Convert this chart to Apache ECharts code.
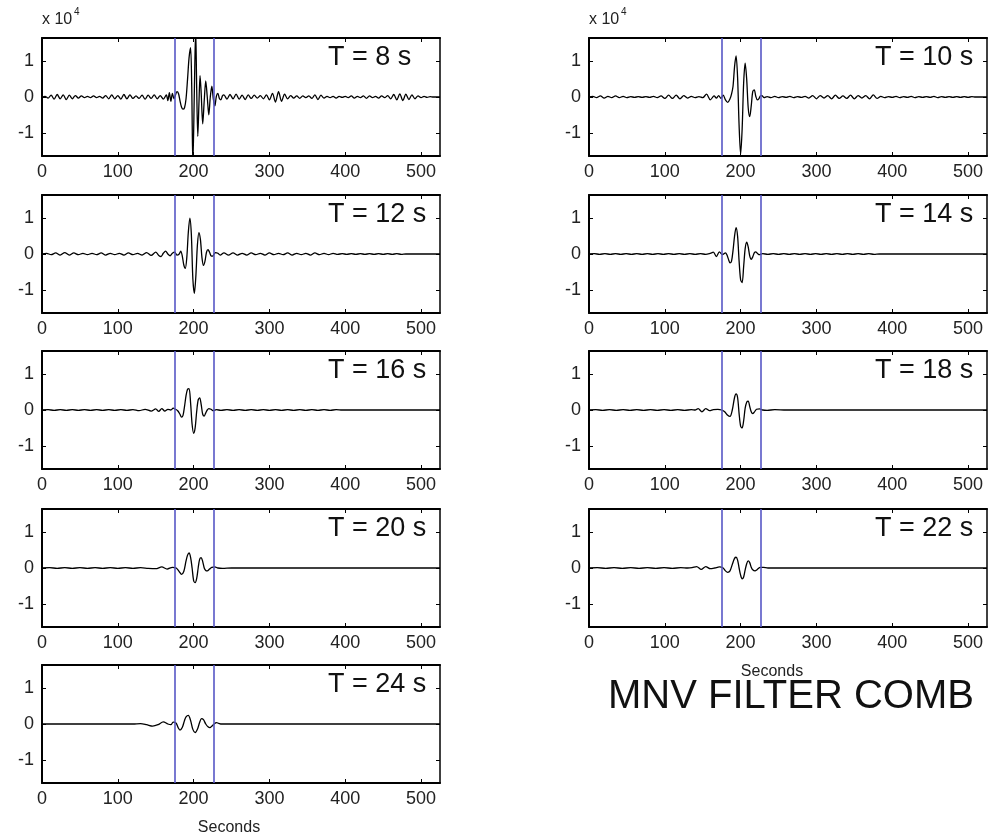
<!DOCTYPE html>
<html><head><meta charset="utf-8">
<script src="https://cdn.jsdelivr.net/npm/echarts@6/dist/echarts.min.js"></script>
<style>html,body{margin:0;padding:0;background:#fff}#c{width:988px;height:839px}</style>
</head><body><div id="c"></div><script>
// ---- data ----
const periods = [8, 10, 12, 14, 16, 18, 20, 22, 24];
const xTicks = [0, 100, 200, 300, 400, 500];
const yTicks = [-1, 0, 1];
const windowEdges = [175, 226];
const chartTitle = 'MNV FILTER COMB';
const xName = 'Seconds';

// [seconds, amplitude x 1e4]
const wave8 = [[0,0],[4,0.02],[8,-0.03],[12,0.05],[16,-0.06],[20,0.07],[24,-0.05],[28,0.06],[32,-0.07],[36,0.05],[40,-0.05],[44,0.04],[48,-0.03],[52,0.03],[56,-0.02],[60,0.02],[64,-0.02],[68,0.03],[72,-0.02],[76,0.02],[80,-0.03],[84,0.04],[88,-0.05],[92,0.06],[96,-0.05],[100,0.04],[104,-0.06],[108,0.07],[112,-0.05],[116,0.06],[120,-0.04],[124,0.03],[128,-0.04],[132,0.05],[136,-0.06],[140,0.05],[144,-0.04],[148,0.06],[152,-0.05],[156,0.04],[160,-0.06],[164,0.06],
[166,-0.1],[168,0.12],[170,-0.12],[172,0.1],[174,-0.05],[176,0.05],[178,0.15],[180,0.1],[182,-0.1],[184,-0.28],[186,-0.34],[188,-0.3],[190,-0.05],[192,0.5],[194,1.1],[196,1.38],[197.5,0.3],[199,-1.9],[201,0.2],[202.7,1.9],[204,0.3],[205.5,-1.1],[207,-0.2],[208.5,0.6],[210,0.1],[212,-0.75],[214,-0.1],[216,0.45],[218,0.0],[220,-0.5],[222,0.0],[224,0.3],[226,-0.05],[228,-0.25],[230,0.02],[232,0.1],[234,-0.04],[236,-0.08],[238,0.03],[240,0.06],
[244,-0.06],[248,0.07],[252,-0.05],[256,0.08],[260,-0.06],[264,0.05],[268,-0.07],[272,0.06],[276,-0.04],[280,0.05],[284,-0.03],[288,0.04],[292,-0.05],[296,0.06],[300,-0.08],[304,0.1],[308,-0.14],[312,0.15],[316,-0.12],[320,0.08],[324,-0.05],[328,0.04],[332,-0.03],[336,0.03],[340,-0.04],[344,0.03],[348,-0.02],[352,0.03],[356,-0.04],[360,0.06],[364,-0.07],[368,0.05],[372,-0.03],[376,0.02],[380,-0.02],[384,0.02],[388,-0.03],[392,0.02],[396,-0.01],[400,0.02],[404,-0.02],[408,0.03],[412,-0.03],[416,0.02],[420,-0.02],[424,0.03],[428,-0.04],[432,0.03],[436,-0.02],[440,0.02],[444,-0.03],[448,0.03],[452,-0.02],[456,0.04],[460,-0.05],[464,0.07],[468,-0.08],[472,0.09],[476,-0.1],[480,0.08],[484,-0.07],[488,0.06],[492,-0.05],[496,0.03],[500,-0.02],[504,0.02],[508,-0.01],[512,0.01],[516,0],[525,0]];

const wave10 = [[0,0],[5,0.02],[10,-0.02],[15,0.03],[20,-0.03],[25,0.02],[30,-0.02],[35,0.03],[40,-0.02],[45,0.02],[50,-0.02],[55,0.01],[60,-0.01],[65,0.01],[70,-0.01],[75,0.01],[80,-0.01],[85,0.02],[90,-0.02],[95,0.03],[100,-0.04],[105,0.05],[110,-0.04],[115,0.05],[120,-0.05],[125,0.04],[130,-0.03],[135,0.02],[140,-0.02],[145,0.01],[150,-0.02],[155,0.08],[160,-0.08],[165,0.03],
[168,-0.03],[171,0.04],[174,-0.04],[177,0.05],[180,-0.08],[183,-0.15],[186,-0.05],[188,0.08],[190,0.3],[192,0.85],[194,1.15],[196,0.55],[198,-0.8],[200,-1.6],[202,-0.9],[204,0.4],[206,0.95],[208,0.5],[210,-0.3],[212,-0.55],[214,-0.25],[216,0.15],[218,0.2],[220,0.02],[222,-0.08],[224,-0.05],[226,0.03],[228,0.04],[231,-0.02],[235,0.01],
[240,-0.02],[245,0.02],[250,-0.02],[255,0.01],[260,-0.01],[265,0.02],[270,-0.02],[275,0.01],[280,-0.01],[285,0.02],[290,-0.03],[295,0.04],[300,-0.05],[305,0.04],[310,-0.03],[315,0.04],[320,-0.05],[325,0.05],[330,-0.04],[335,0.03],[340,-0.04],[345,0.05],[350,-0.05],[355,0.04],[360,-0.03],[365,0.04],[370,-0.05],[375,0.06],[380,-0.04],[385,0.02],[390,-0.02],[395,0.01],[400,-0.01],[405,0.02],[410,-0.02],[415,0.01],[420,-0.01],[425,0.02],[430,-0.02],[435,0.01],[440,-0.01],[445,0.01],[450,-0.01],[455,0.02],[460,-0.02],[465,0.01],[470,-0.01],[475,0.01],[480,-0.01],[485,0.01],[490,-0.01],[495,0.01],[500,-0.01],[505,0.01],[510,0],[525,0]];

const wave12 = [[0,0],[6,0.02],[12,-0.02],[18,0.03],[24,-0.03],[30,0.04],[36,-0.03],[42,0.03],[48,-0.02],[54,0.02],[60,-0.02],[66,0.02],[72,-0.02],[78,0.03],[84,-0.03],[90,0.02],[96,-0.02],[102,0.02],[108,-0.03],[114,0.03],[120,-0.02],[126,0.02],[132,-0.03],[138,0.04],[144,-0.04],[150,0.05],
[154,-0.04],[157,-0.07],[160,0.02],[163,0.08],[166,0.0],[169,-0.05],[172,0.02],[175,0.05],[178,-0.03],[181,0.0],[183,0.08],[185,-0.05],[187,-0.3],[189,-0.4],[191,-0.1],[193,0.6],[195,1.0],[197,0.55],[199,-0.7],[201,-1.1],[203,-0.6],[205,0.25],[207,0.6],[209,0.4],[211,-0.1],[213,-0.32],[215,-0.2],[217,0.05],[219,0.12],[221,0.05],[223,-0.05],[225,-0.06],[227,0.0],[229,0.04],[232,0.02],[235,-0.03],
[240,0.03],[246,-0.03],[252,0.03],[258,-0.03],[264,0.02],[270,-0.03],[276,0.03],[282,-0.02],[288,0.02],[294,-0.03],[300,0.03],[306,-0.02],[312,0.02],[318,-0.02],[324,0.03],[330,-0.03],[336,0.02],[342,-0.02],[348,0.02],[354,-0.03],[360,0.03],[366,-0.02],[372,0.02],[378,-0.02],[384,0.02],[390,-0.01],[396,0.01],[402,-0.01],[408,0.01],[414,-0.01],[420,0.01],[426,-0.01],[432,0.01],[438,-0.01],[444,0.01],[450,-0.01],[456,0.01],[462,-0.01],[468,0.01],[474,-0.01],[480,0],[525,0]];

const wave14 = [[0,0],[7,0.01],[14,-0.01],[21,0.01],[28,-0.01],[35,0.01],[42,-0.01],[49,0.01],[56,-0.01],[63,0.01],[70,-0.01],[77,0.01],[84,-0.01],[91,0.01],[98,-0.01],[105,0.01],[112,-0.01],[119,0.01],[126,-0.01],[133,0.01],[140,-0.01],[147,0.01],[154,-0.01],[160,0.02],[164,0.05],[168,-0.07],[172,0.06],[176,-0.02],[180,0.03],[182,-0.03],[184,-0.15],[186,-0.25],[188,-0.2],[190,0.1],[192,0.5],[194,0.74],[196,0.5],[198,-0.2],[200,-0.72],[202,-0.8],[204,-0.35],[206,0.15],[208,0.33],[210,0.2],[212,-0.05],[214,-0.15],[216,-0.08],[218,0.03],[220,0.06],[222,0.02],[225,-0.02],[229,0.01],[236,-0.01],[243,0.01],[250,-0.01],[257,0.01],[264,-0.01],[271,0.01],[278,-0.01],[285,0.01],[292,-0.01],[299,0.01],[306,-0.01],[313,0.01],[320,-0.01],[327,0.01],[334,-0.01],[341,0.01],[348,-0.01],[355,0.01],[362,-0.01],[369,0.01],[376,-0.01],[383,0],[525,0]];

const wave16 = [[0,0],[8,0.01],[16,-0.01],[24,0.01],[32,-0.01],[40,0.01],[48,-0.01],[56,0.01],[64,-0.01],[72,0.01],[80,-0.01],[88,0.01],[96,-0.01],[104,0.01],[112,-0.01],[120,0.01],[128,-0.02],[136,0.02],[144,-0.03],[150,0.03],[154,-0.04],[158,0.04],[162,-0.03],[166,0.02],[170,0.0],[173,0.05],[176,0.02],[179,-0.02],[182,-0.12],[184,-0.2],[186,-0.15],[188,0.1],[190,0.4],[192,0.58],[194,0.6],[196,0.2],[198,-0.4],[200,-0.65],[202,-0.5],[204,-0.05],[206,0.28],[208,0.34],[210,0.15],[212,-0.12],[214,-0.17],[216,-0.08],[218,0.0],[220,0.04],[223,0.02],[226,-0.02],[230,0.01],[236,-0.01],[244,0.01],[252,-0.01],[260,0.01],[268,-0.01],[276,0.01],[284,-0.01],[292,0.01],[300,-0.01],[308,0.01],[316,-0.01],[324,0.01],[332,-0.01],[340,0.01],[348,-0.01],[356,0.01],[364,-0.01],[372,0.01],[380,-0.01],[388,0.01],[396,0],[525,0]];

const wave18 = [[0,0],[9,0.01],[18,-0.01],[27,0.01],[36,-0.01],[45,0.01],[54,-0.01],[63,0.01],[72,-0.01],[81,0.01],[90,-0.01],[99,0.01],[108,-0.01],[117,0.01],[126,-0.01],[135,0.01],[140,0.0],[144,0.04],[149,-0.05],[154,0.04],[159,-0.02],[164,0.01],[170,0.02],[175,0.0],[179,-0.05],[183,-0.15],[186,-0.18],[189,0.0],[192,0.35],[194,0.45],[196,0.35],[198,-0.1],[200,-0.45],[202,-0.5],[204,-0.3],[206,0.05],[208,0.22],[210,0.25],[212,0.1],[214,-0.05],[216,-0.1],[218,-0.06],[221,0.02],[225,0.03],[229,0.0],[235,-0.01],[245,0.01],[260,0],[525,0]];

const wave20 = [[0,0],[10,0.01],[20,-0.01],[30,0.01],[40,-0.01],[50,0.01],[60,-0.01],[70,0.01],[80,-0.01],[90,0.01],[100,-0.01],[110,0.01],[120,-0.01],[130,0.01],[140,-0.01],[150,-0.02],[158,0.03],[165,-0.03],[172,0.02],[177,0.0],[181,-0.1],[184,-0.18],[187,-0.1],[190,0.2],[192,0.36],[194,0.42],[196,0.3],[198,0.0],[200,-0.35],[202,-0.41],[204,-0.3],[206,0.0],[208,0.25],[210,0.29],[212,0.18],[214,0.0],[216,-0.07],[218,-0.08],[221,-0.03],[224,0.02],[228,0.03],[232,0.0],[238,-0.01],[250,0],[525,0]];

const wave22 = [[0,0],[11,0.01],[22,-0.01],[33,0.01],[44,-0.01],[55,0.01],[66,-0.01],[77,0.01],[88,-0.01],[99,0.01],[110,-0.01],[121,0.01],[130,0.0],[136,0.01],[142,0.04],[148,-0.04],[154,0.04],[160,-0.02],[166,0.0],[172,0.03],[177,0.0],[180,-0.08],[183,-0.12],[186,-0.08],[189,0.1],[192,0.27],[194,0.3],[196,0.22],[198,0.0],[200,-0.2],[202,-0.3],[204,-0.25],[206,-0.05],[208,0.12],[210,0.2],[212,0.15],[214,0.02],[216,-0.05],[219,-0.08],[222,-0.04],[226,0.02],[230,0.02],[236,0],[525,0]];

const wave24 = [[0,0],[30,0],[60,0],[90,0],[120,0],[130,0.01],[138,-0.02],[146,-0.06],[153,-0.02],[160,0.06],[166,0.0],[170,-0.02],[173,0.05],[177,0.02],[180,-0.12],[182,-0.17],[185,-0.1],[188,0.1],[190,0.2],[193,0.24],[196,0.1],[199,-0.15],[202,-0.24],[205,-0.15],[208,0.05],[210.5,0.15],[213,0.12],[216,0.0],[219,-0.08],[221.5,-0.1],[224,-0.06],[227,0.0],[230,0.04],[233,0.02],[237,0.0],[245,0],[525,0]];

const waves = [wave8, wave10, wave12, wave14, wave16, wave18, wave20, wave22, wave24];

// ---- layout ----
const colLeft = [42, 589];
const rowTop = [38, 195, 351, 509, 665];
const W = 398, H = 118;
const FONT = '"Liberation Sans", Arial, Helvetica, sans-serif';

const grids = [], xAxes = [], yAxes = [], series = [], graphics = [];
periods.forEach((T, i) => {
  const col = i % 2, row = Math.floor(i / 2);
  grids.push({ left: colLeft[col], top: rowTop[row], width: W, height: H, containLabel: false });
  const lineS = { color: '#000', width: 2 };
  ['bottom', 'top'].forEach(pos => {
    xAxes.push({
      type: 'value', gridIndex: i, position: pos, min: 0, max: 525,
      axisLine: { show: true, onZero: false, lineStyle: lineS },
      axisTick: { show: true, inside: true, length: 4, customValues: xTicks, lineStyle: { color: '#000', width: 1 } },
      axisLabel: { show: pos === 'bottom', customValues: xTicks, margin: 7, fontSize: 18, color: '#222', fontFamily: FONT },
      splitLine: { show: false }
    });
  });
  ['left', 'right'].forEach(pos => {
    yAxes.push({
      type: 'value', gridIndex: i, position: pos, min: -1.65, max: 1.65,
      axisLine: { show: true, onZero: false, lineStyle: pos === 'left' ? lineS : { color: '#000', width: 1.5 } },
      axisTick: { show: true, inside: true, length: 4, customValues: yTicks, lineStyle: { color: '#000', width: 1 } },
      axisLabel: { show: pos === 'left', customValues: yTicks, margin: 8, fontSize: 18, color: '#222', fontFamily: FONT },
      splitLine: { show: false }
    });
  });
  series.push({
    type: 'line', xAxisIndex: 2 * i, yAxisIndex: 2 * i, data: waves[i],
    showSymbol: false, symbol: 'none', smooth: 0.3, clip: true, animation: false,
    lineStyle: { color: '#000', width: 1.3 },
    markLine: {
      silent: true, symbol: ['none', 'none'], animation: false, label: { show: false },
      lineStyle: { color: '#5757c6', width: 1.6, type: 'solid' },
      data: windowEdges.map(v => ({ xAxis: v }))
    }
  });
  graphics.push({
    type: 'text', x: colLeft[col] + 286, y: rowTop[row] + 20, z: 100,
    style: { text: 'T = ' + T + ' s', font: '27px ' + FONT, fill: '#111',
      align: 'left', verticalAlign: 'middle', textAlign: 'left', textVerticalAlign: 'middle' }
  });
});

[0, 1].forEach(col => {
  graphics.push({ type: 'text', x: colLeft[col], y: 20,
    style: { text: 'x 10', font: '16px ' + FONT, fill: '#222', align: 'left', verticalAlign: 'middle', textAlign: 'left', textVerticalAlign: 'middle' } });
  graphics.push({ type: 'text', x: colLeft[col] + 32, y: 12,
    style: { text: '4', font: '10px ' + FONT, fill: '#222', align: 'left', verticalAlign: 'middle', textAlign: 'left', textVerticalAlign: 'middle' } });
});
graphics.push({ type: 'text', x: 229, y: 828,
  style: { text: xName, font: '16px ' + FONT, fill: '#222', align: 'center', verticalAlign: 'middle', textAlign: 'center', textVerticalAlign: 'middle' } });
graphics.push({ type: 'text', x: 772, y: 672,
  style: { text: xName, font: '16px ' + FONT, fill: '#222', align: 'center', verticalAlign: 'middle', textAlign: 'center', textVerticalAlign: 'middle' } });
graphics.push({ type: 'text', x: 791, y: 697,
  style: { text: chartTitle, font: '40px ' + FONT, fill: '#111', align: 'center', verticalAlign: 'middle', textAlign: 'center', textVerticalAlign: 'middle' } });

const chart = echarts.init(document.getElementById('c'), null, { renderer: 'canvas' });
chart.setOption({
  backgroundColor: '#fff', animation: false,
  grid: grids, xAxis: xAxes, yAxis: yAxes, series: series, graphic: graphics
});
</script></body></html>
